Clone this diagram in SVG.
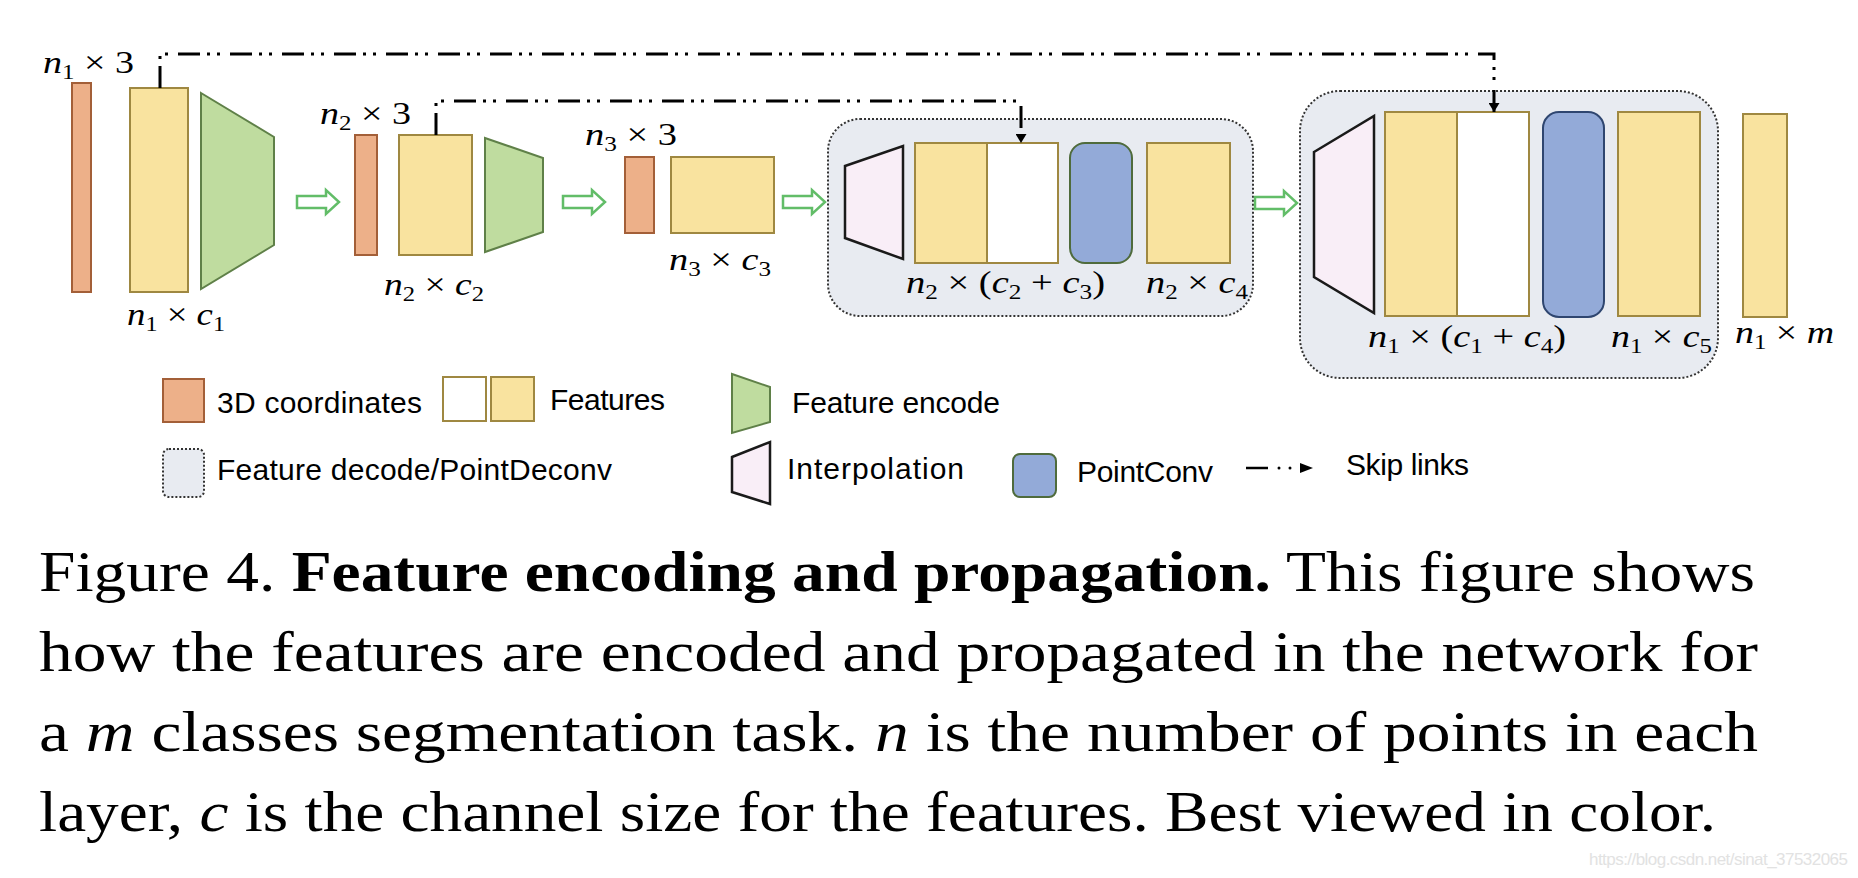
<svg xmlns="http://www.w3.org/2000/svg" width="1858" height="878" viewBox="0 0 1858 878">
<style>
.coord{fill:#EDB089;stroke:#A35F38;stroke-width:2}
.feat{fill:#F9E39F;stroke:#9F8841;stroke-width:2}
.featw{fill:#FFFFFF;stroke:#9F8841;stroke-width:2}
.enc{fill:#BFDC9F;stroke:#5F8048;stroke-width:2}
.interp{fill:#F9EEF7;stroke:#1A1A1A;stroke-width:2.5}
.pconv{fill:#93AAD8;stroke:#4F6B3C;stroke-width:2}
.pconv2{fill:#93AAD8;stroke:#2F4670;stroke-width:2}
.dec{fill:#E8EBF1;stroke:#333;stroke-width:2;stroke-dasharray:2 2}
.flow{fill:#FFFFFF;stroke:#62BD68;stroke-width:2.5}
.skip{fill:none;stroke:#000;stroke-width:3;stroke-dasharray:22 7 3 7 3 10}
.math{font-family:"Liberation Serif","Times New Roman",serif;font-size:32px;fill:#000}
.sub{font-size:21px}
.it{font-style:italic}
.lg{font-family:"Liberation Sans",Arial,sans-serif;font-size:30px;fill:#000}
.cap{font-family:"Liberation Serif","Times New Roman",serif;font-size:58px;fill:#000}
</style>
<defs>
<marker id="ah" markerUnits="userSpaceOnUse" viewBox="0 0 9 11" markerWidth="9" markerHeight="11" refX="9" refY="5.5" orient="auto">
<path d="M0,0 L9,5.5 L0,11 Z" fill="#000" stroke="none"/>
</marker>
</defs>
<rect width="1858" height="878" fill="#FFFFFF"/>

<!-- decoder backgrounds -->
<g id="decoder1"><rect class="dec" x="828" y="119" width="425" height="197" rx="32"/></g>
<g id="decoder2"><rect class="dec" x="1300" y="91" width="418" height="287" rx="40"/></g>

<!-- stage 1 -->
<g id="coord1"><rect class="coord" x="72" y="83" width="19" height="209"/>
<text class="math" x="43" y="73" textLength="91" lengthAdjust="spacingAndGlyphs"><tspan class="it">n</tspan><tspan class="sub" dy="6">1</tspan><tspan dy="-6"> × 3</tspan></text></g>
<g id="feat1"><rect class="feat" x="130" y="88" width="58" height="204"/>
<text class="math" x="127" y="325" textLength="98" lengthAdjust="spacingAndGlyphs"><tspan class="it">n</tspan><tspan class="sub" dy="6">1</tspan><tspan dy="-6"> × </tspan><tspan class="it">c</tspan><tspan class="sub" dy="6">1</tspan></text></g>
<g id="encode1"><polygon class="enc" points="201,93 274,137 274,245 201,289"/></g>

<!-- stage 2 -->
<g id="coord2"><rect class="coord" x="355" y="135" width="22" height="120"/>
<text class="math" x="320" y="124" textLength="91" lengthAdjust="spacingAndGlyphs"><tspan class="it">n</tspan><tspan class="sub" dy="6">2</tspan><tspan dy="-6"> × 3</tspan></text></g>
<g id="feat2"><rect class="feat" x="399" y="135" width="73" height="120"/>
<text class="math" x="384" y="295" textLength="100" lengthAdjust="spacingAndGlyphs"><tspan class="it">n</tspan><tspan class="sub" dy="6">2</tspan><tspan dy="-6"> × </tspan><tspan class="it">c</tspan><tspan class="sub" dy="6">2</tspan></text></g>
<g id="encode2"><polygon class="enc" points="485,138 543,158 543,232 485,252"/></g>

<!-- stage 3 -->
<g id="coord3"><rect class="coord" x="625" y="157" width="29" height="76"/>
<text class="math" x="585" y="145" textLength="92" lengthAdjust="spacingAndGlyphs"><tspan class="it">n</tspan><tspan class="sub" dy="6">3</tspan><tspan dy="-6"> × 3</tspan></text></g>
<g id="feat3"><rect class="feat" x="671" y="157" width="103" height="76"/>
<text class="math" x="669" y="270" textLength="102" lengthAdjust="spacingAndGlyphs"><tspan class="it">n</tspan><tspan class="sub" dy="6">3</tspan><tspan dy="-6"> × </tspan><tspan class="it">c</tspan><tspan class="sub" dy="6">3</tspan></text></g>

<!-- decoder 1 contents -->
<g id="interp1"><polygon class="interp" points="845,166 903,146 903,259 845,238"/></g>
<g id="concat1"><rect class="feat" x="915" y="143" width="72" height="120"/><rect class="featw" x="987" y="143" width="71" height="120"/>
<text class="math" x="906" y="293" textLength="199" lengthAdjust="spacingAndGlyphs"><tspan class="it">n</tspan><tspan class="sub" dy="6">2</tspan><tspan dy="-6"> × (</tspan><tspan class="it">c</tspan><tspan class="sub" dy="6">2</tspan><tspan dy="-6"> + </tspan><tspan class="it">c</tspan><tspan class="sub" dy="6">3</tspan><tspan dy="-6">)</tspan></text></g>
<g id="pointconv1"><rect class="pconv" x="1070" y="143" width="62" height="120" rx="15"/></g>
<g id="feat4"><rect class="feat" x="1147" y="143" width="83" height="120"/>
<text class="math" x="1146" y="293" textLength="102" lengthAdjust="spacingAndGlyphs"><tspan class="it">n</tspan><tspan class="sub" dy="6">2</tspan><tspan dy="-6"> × </tspan><tspan class="it">c</tspan><tspan class="sub" dy="6">4</tspan></text></g>

<!-- decoder 2 contents -->
<g id="interp2"><polygon class="interp" points="1314,152 1374,116 1374,313 1314,277"/></g>
<g id="concat2"><rect class="feat" x="1385" y="112" width="72" height="204"/><rect class="featw" x="1457" y="112" width="72" height="204"/>
<text class="math" x="1368" y="347" textLength="198" lengthAdjust="spacingAndGlyphs"><tspan class="it">n</tspan><tspan class="sub" dy="6">1</tspan><tspan dy="-6"> × (</tspan><tspan class="it">c</tspan><tspan class="sub" dy="6">1</tspan><tspan dy="-6"> + </tspan><tspan class="it">c</tspan><tspan class="sub" dy="6">4</tspan><tspan dy="-6">)</tspan></text></g>
<g id="pointconv2"><rect class="pconv2" x="1543" y="112" width="61" height="205" rx="16"/></g>
<g id="feat5"><rect class="feat" x="1618" y="112" width="82" height="204"/>
<text class="math" x="1611" y="347" textLength="101" lengthAdjust="spacingAndGlyphs"><tspan class="it">n</tspan><tspan class="sub" dy="6">1</tspan><tspan dy="-6"> × </tspan><tspan class="it">c</tspan><tspan class="sub" dy="6">5</tspan></text></g>
<g id="output"><rect class="feat" x="1743" y="114" width="44" height="203"/>
<text class="math" x="1735" y="343" textLength="99" lengthAdjust="spacingAndGlyphs"><tspan class="it">n</tspan><tspan class="sub" dy="6">1</tspan><tspan dy="-6"> × </tspan><tspan class="it">m</tspan></text></g>

<!-- connectors -->
<g id="connectors">
<path class="flow" d="M297,196 H326 V190 L339,202 L326,214 V208 H297 Z"/>
<path class="flow" d="M563,196 H592 V190 L605,202 L592,214 V208 H563 Z"/>
<path class="flow" d="M783,196 H812 V190 L825,202 L812,214 V208 H783 Z"/>
<path class="flow" d="M1255,197 H1284 V191 L1297,203 L1284,215 V209 H1255 Z"/>
<path class="skip" d="M160,88 V54 H1494 V112" marker-end="url(#ah)"/>
<path class="skip" d="M436,135 V101 H1021 V143" marker-end="url(#ah)"/>
</g>

<!-- legend -->
<g id="legend-coords"><rect class="coord" x="163" y="379" width="41" height="43"/>
<text class="lg" x="217" y="413" textLength="205">3D coordinates</text></g>
<g id="legend-features"><rect class="featw" x="443" y="377" width="43" height="44"/><rect class="feat" x="491" y="377" width="43" height="44"/>
<text class="lg" x="550" y="410" textLength="115">Features</text></g>
<g id="legend-encode"><polygon class="enc" points="732,374 770,387 770,422 732,433"/>
<text class="lg" x="792" y="413" textLength="208">Feature encode</text></g>
<g id="legend-decode"><rect class="dec" x="163" y="449" width="41" height="48" rx="6"/>
<text class="lg" x="217" y="480" textLength="395">Feature decode/PointDeconv</text></g>
<g id="legend-interp"><polygon class="interp" points="732,457 770,442 770,504 732,492"/>
<text class="lg" x="787" y="479" textLength="177">Interpolation</text></g>
<g id="legend-pointconv"><rect class="pconv" x="1013" y="454" width="43" height="43" rx="7"/>
<text class="lg" x="1077" y="482" textLength="136">PointConv</text></g>
<g id="legend-skip"><line x1="1246" y1="468" x2="1268" y2="468" stroke="#000" stroke-width="2.5"/>
<circle cx="1279" cy="468" r="1.5" fill="#000"/><circle cx="1290" cy="468" r="1.5" fill="#000"/>
<polygon points="1300,463 1313,468 1300,473" fill="#000"/>
<text class="lg" x="1346" y="475" textLength="123">Skip links</text></g>

<!-- caption -->
<g id="caption">
<text class="cap" x="39" y="591" textLength="1716" lengthAdjust="spacingAndGlyphs">Figure 4. <tspan font-weight="bold">Feature encoding and propagation.</tspan> This figure shows</text>
<text class="cap" x="39" y="671" textLength="1719" lengthAdjust="spacingAndGlyphs">how the features are encoded and propagated in the network for</text>
<text class="cap" x="39" y="751" textLength="1719" lengthAdjust="spacingAndGlyphs">a <tspan class="it">m</tspan> classes segmentation task. <tspan class="it">n</tspan> is the number of points in each</text>
<text class="cap" x="39" y="831" textLength="1677" lengthAdjust="spacingAndGlyphs">layer, <tspan class="it">c</tspan> is the channel size for the features. Best viewed in color.</text>
<text x="1589" y="865" font-family="Liberation Sans, Arial, sans-serif" font-size="17" fill="#E2E2E2" textLength="259">https://blog.csdn.net/sinat_37532065</text>
</g>
</svg>
